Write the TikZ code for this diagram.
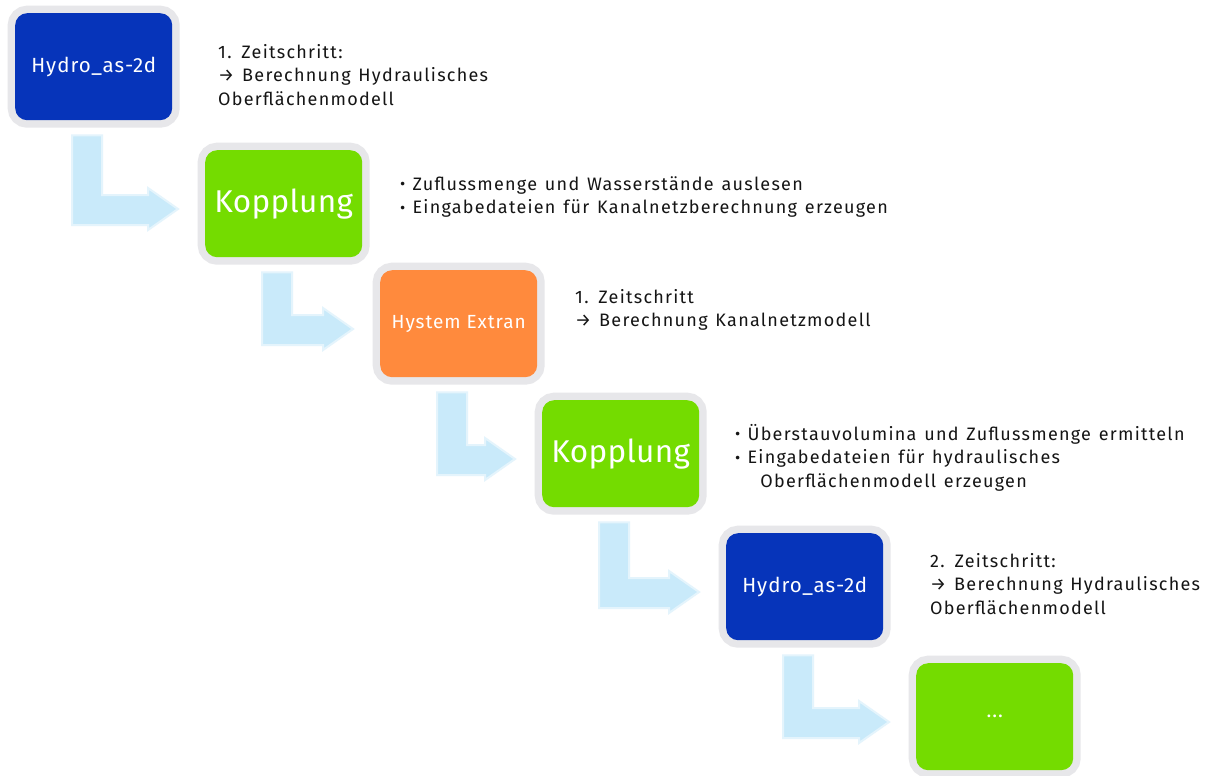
\documentclass[tikz,border=0pt]{standalone}
\usepackage{fontspec}
\setmainfont{Fira Sans}
\newfontfamily\notefont[LetterSpace=7, WordSpace=1.3]{Fira Sans}
\newfontfamily\boxfont[LetterSpace=5]{Fira Sans}
\newfontfamily\bigboxfont[LetterSpace=1]{Fira Sans}
\usetikzlibrary{calc}
\definecolor{hblue}{HTML}{0634BA}
\definecolor{hgreen}{HTML}{74DC00}
\definecolor{horange}{HTML}{FF8A3D}
\definecolor{halo}{HTML}{E7E7EA}
\definecolor{afill}{HTML}{C9EAFA}
\definecolor{aline}{HTML}{E4F4FC}
\definecolor{txt}{HTML}{151515}
\newcommand\lshape[2]{%
  \coordinate (#1-tl) at ($(#1.south west)+(57,15)$);
  \coordinate (#1-tr) at ($(#1.south west)+(87,15)$);
  \coordinate (#2-s1) at ($(#2.north west)+(-57,45)$);
  \coordinate (#2-s2) at ($(#2.north west)+(-57,75)$);
  \coordinate (#2-h1) at ($(#2.north west)+(-57,38)$);
  \coordinate (#2-h2) at ($(#2.north west)+(-57,80)$);
  \coordinate (#2-tip) at ($(#2.north west)+(-27,59)$);
  \path[flowarrow] (#1-tl) -- (#1-tl |- #2-s2) -- (#2-s2) -- (#2-h2) -- (#2-tip)
     -- (#2-h1) -- (#2-s1) -- (#1-tr |- #2-s1) -- (#1-tr) -- cycle;
}
\begin{document}
\begin{tikzpicture}[x=1pt,y=-1pt,
  stepbox/.style={anchor=north west, minimum width=157pt, minimum height=107pt,
     rounded corners=12pt, text=white, inner sep=0pt,
     preaction={draw=halo, line width=15pt}},
  flowarrow/.style={fill=afill, draw=aline, line width=2pt, line join=miter},
  note/.style={anchor=north west, inner sep=0pt, align=left, text=txt,
     font=\notefont\fontsize{18}{23.5}\selectfont}]
\fill[white] (0,0) rectangle (1205,776);
\useasboundingbox (0,0) rectangle (1205,776);

\node[stepbox, fill=hblue, font=\boxfont\fontsize{20.5}{22}\selectfont] (b1) at (15,13) {Hydro\_as-2d};
\node[stepbox, fill=hgreen, font=\bigboxfont\fontsize{31.5}{34}\selectfont] (b2) at (205,150) {Kopplung};
\node[stepbox, fill=horange, font=\boxfont\fontsize{19}{22}\selectfont] (b3) at (380,270) {Hystem Extran};
\node[stepbox, fill=hgreen, font=\bigboxfont\fontsize{31.5}{34}\selectfont] (b4) at (542,400) {Kopplung};
\node[stepbox, fill=hblue, font=\boxfont\fontsize{20.5}{22}\selectfont] (b5) at (726,533) {Hydro\_as-2d};
\node[stepbox, fill=hgreen, font=\boxfont\fontsize{20}{22}\selectfont] (b6) at (916,663) {...};

\lshape{b1}{b2}
\lshape{b2}{b3}
\lshape{b3}{b4}
\lshape{b4}{b5}
\lshape{b5}{b6}

\newcommand\bu{\raisebox{0.05ex}{\fontsize{16}{16}\selectfont\textbullet}\hspace{0.4em}}
\node[note] (t1) at (218,44) {1. Zeitschritt:\\→ Berechnung Hydraulisches\\Oberflächenmodell};
\node[note] (t2) at (400,176) {\bu Zuflussmenge und Wasserstände auslesen\\\bu Eingabedateien für Kanalnetzberechnung erzeugen};
\node[note] (t3) at (575,289) {1. Zeitschritt\\→ Berechnung Kanalnetzmodell};
\node[note] (t4) at (735,424) {\bu Überstauvolumina und Zuflussmenge ermitteln\\\bu Eingabedateien für hydraulisches\\\hspace{1.4em}Oberflächenmodell erzeugen};
\node[note] (t5) at (930,553) {2. Zeitschritt:\\→ Berechnung Hydraulisches\\Oberflächenmodell};
\end{tikzpicture}
\end{document}
